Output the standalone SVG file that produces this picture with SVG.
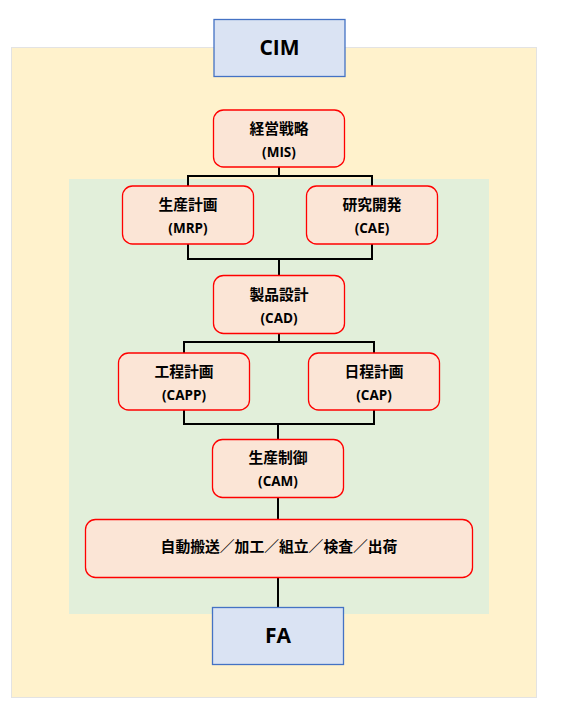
<svg xmlns="http://www.w3.org/2000/svg" width="562" height="710" viewBox="0 0 562 710">
<style>
.bg{fill:#ffffff}
.outer{fill:#fff2cc;stroke:#e3e3e3;stroke-width:1}
.inner{fill:#e2efda}
.sys rect{fill:#dae3f3;stroke:#4472c4;stroke-width:1.3}
.sys text{font-family:"Open Sans","Noto Sans",sans-serif;font-weight:bold;font-size:21px;fill:#000;text-anchor:middle}
.node rect{fill:#fbe5d6;stroke:#ff0000;stroke-width:1.3}
.node text{font-family:"Noto Sans CJK JP","Noto Sans",sans-serif;font-weight:bold;font-size:14.8px;fill:#000;text-anchor:middle}
.node text.en{font-family:"Open Sans","Noto Sans",sans-serif;font-size:13.5px}
.conn path{fill:none;stroke:#000;stroke-width:2}
</style>
<rect class="bg" x="0" y="0" width="562" height="710"/>
<rect class="outer" x="11.5" y="47.5" width="525" height="650"/>
<rect class="inner" x="69" y="179" width="420" height="435"/>
<g class="conn" id="connectors">
<path d="M279 167V176M188 186V176H372V186"/>
<path d="M188 244V259H372V244M279 259V275"/>
<path d="M279 333V342M184 353V342H374V353"/>
<path d="M184 410V424H374V410M278 424V439"/>
<path d="M278 497V519"/>
<path d="M278 577V607"/>
</g>
<g class="sys" id="cim"><rect x="214" y="19.5" width="131" height="57"/><text x="279.5" y="55">CIM</text></g>
<g class="node" id="mis"><rect x="213.5" y="110" width="131" height="57" rx="10"/><text x="279" y="134">経営戦略</text><text class="en" x="279" y="157">(MIS)</text></g>
<g class="node" id="mrp"><rect x="122.5" y="186" width="131" height="58" rx="10"/><text x="188" y="210">生産計画</text><text class="en" x="188" y="233">(MRP)</text></g>
<g class="node" id="cae"><rect x="306.5" y="186" width="131" height="58" rx="10"/><text x="372" y="210">研究開発</text><text class="en" x="372" y="233">(CAE)</text></g>
<g class="node" id="cad"><rect x="213.5" y="275.5" width="131" height="58" rx="10"/><text x="279" y="300">製品設計</text><text class="en" x="279" y="323">(CAD)</text></g>
<g class="node" id="capp"><rect x="118.5" y="353" width="131" height="57" rx="10"/><text x="184" y="377">工程計画</text><text class="en" x="184" y="400">(CAPP)</text></g>
<g class="node" id="cap"><rect x="308.5" y="353" width="131" height="57" rx="10"/><text x="374" y="377">日程計画</text><text class="en" x="374" y="400">(CAP)</text></g>
<g class="node" id="cam"><rect x="212.5" y="439.5" width="131" height="58" rx="10"/><text x="278" y="463">生産制御</text><text class="en" x="278" y="486">(CAM)</text></g>
<g class="node" id="fa-ops"><rect x="85.5" y="519.5" width="387" height="58" rx="10"/><text x="279" y="552">自動搬送／加工／組立／検査／出荷</text></g>
<g class="sys" id="fa"><rect x="212.5" y="607.5" width="131" height="57"/><text x="278" y="643">FA</text></g>
</svg>
